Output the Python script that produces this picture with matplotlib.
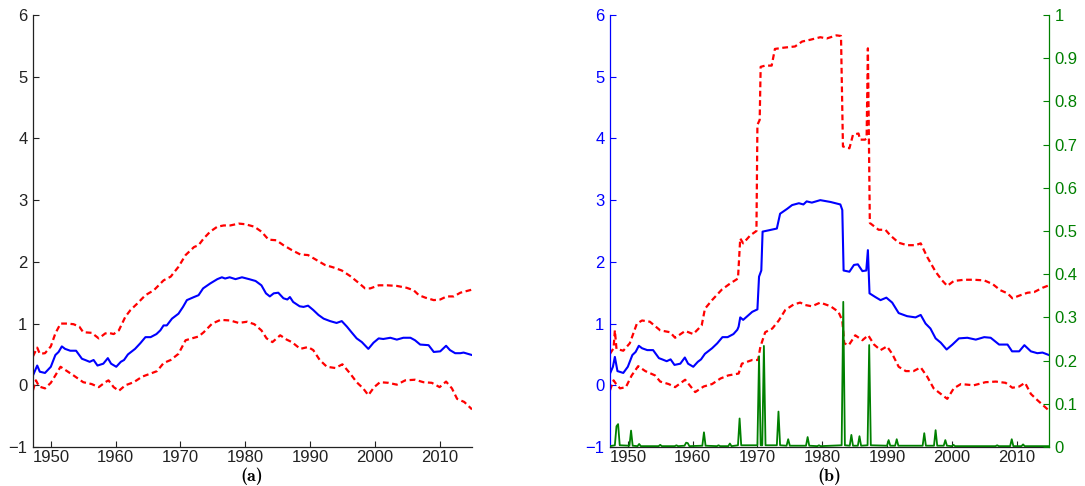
import matplotlib
matplotlib.use("Agg")
import matplotlib.pyplot as plt

plt.rcParams['font.family'] = ['Liberation Sans', 'DejaVu Sans']

# ---------------- panel (a): full-sample estimate ----------------
a_mid_x = [1947.25, 1947.9, 1948.3, 1949.1, 1950.0, 1950.7, 1951.2, 1951.7, 1952.2, 1953.0,
           1953.9, 1954.8, 1955.3, 1956.0, 1956.6, 1957.2, 1958.1, 1958.8, 1959.3, 1960.1,
           1960.8, 1961.3, 1961.9, 1963.0, 1963.8, 1964.6, 1965.4, 1966.3, 1966.9, 1967.4,
           1967.9, 1968.7, 1969.7, 1970.4, 1971.0, 1972.1, 1972.8, 1973.5, 1974.6, 1975.7,
           1976.4, 1976.9, 1977.6, 1978.5, 1979.5, 1980.6, 1981.6, 1982.5, 1983.2, 1983.8,
           1984.4, 1985.1, 1985.9, 1986.5, 1986.9, 1987.4, 1988.4, 1989.0, 1989.7, 1990.5,
           1991.3, 1992.1, 1993.1, 1994.1, 1994.9, 1995.7, 1996.4, 1997.2, 1998.0, 1999.0,
           1999.8, 2000.6, 2001.3, 2002.4, 2003.4, 2004.4, 2005.5, 2006.2, 2007.0, 2008.3,
           2009.1, 2010.1, 2011.0, 2011.6, 2012.4, 2013.2, 2013.7, 2015.0]
a_mid_y = [0.16, 0.32, 0.22, 0.20, 0.30, 0.49, 0.54, 0.63, 0.59, 0.56,
           0.56, 0.43, 0.41, 0.38, 0.41, 0.32, 0.35, 0.44, 0.35, 0.30,
           0.38, 0.41, 0.50, 0.59, 0.68, 0.78, 0.78, 0.83, 0.89, 0.97,
           0.97, 1.08, 1.16, 1.27, 1.38, 1.43, 1.46, 1.57, 1.65, 1.72,
           1.75, 1.73, 1.75, 1.72, 1.75, 1.72, 1.69, 1.62, 1.49, 1.44,
           1.49, 1.50, 1.41, 1.39, 1.43, 1.35, 1.28, 1.27, 1.29, 1.22,
           1.14, 1.08, 1.04, 1.01, 1.04, 0.95, 0.86, 0.76, 0.70, 0.59,
           0.69, 0.76, 0.75, 0.77, 0.74, 0.77, 0.77, 0.73, 0.66, 0.65,
           0.54, 0.55, 0.64, 0.57, 0.52, 0.52, 0.53, 0.49]

a_hi_x = [1947.25, 1947.9, 1948.3, 1949.1, 1950.0, 1950.7, 1951.5, 1952.5, 1953.5, 1954.4,
          1955.0, 1956.3, 1957.4, 1958.4, 1958.9, 1959.7, 1960.5, 1961.5, 1962.3, 1963.3,
          1964.6, 1965.9, 1967.4, 1968.5, 1969.7, 1970.8, 1972.1, 1972.8, 1973.6, 1974.6,
          1975.7, 1976.7, 1977.7, 1979.0, 1980.0, 1981.4, 1982.5, 1983.6, 1984.8, 1985.9,
          1987.2, 1988.5, 1989.7, 1991.0, 1992.3, 1993.6, 1994.9, 1996.2, 1997.5, 1998.5,
          1999.3, 2000.6, 2001.9, 2003.4, 2004.9, 2006.0, 2006.8, 2007.8, 2009.1, 2010.1,
          2011.1, 2012.2, 2013.2, 2015.0]
a_hi_y = [0.47, 0.61, 0.51, 0.52, 0.63, 0.84, 1.00, 1.00, 0.99, 0.95,
          0.86, 0.85, 0.76, 0.84, 0.85, 0.83, 0.89, 1.11, 1.22, 1.32,
          1.46, 1.54, 1.70, 1.76, 1.92, 2.11, 2.24, 2.27, 2.38, 2.49,
          2.57, 2.59, 2.59, 2.62, 2.61, 2.57, 2.49, 2.36, 2.35, 2.27,
          2.19, 2.12, 2.11, 2.03, 1.95, 1.91, 1.86, 1.77, 1.66, 1.57,
          1.57, 1.62, 1.62, 1.61, 1.58, 1.54, 1.46, 1.42, 1.38, 1.39,
          1.44, 1.44, 1.50, 1.55]

a_lo_x = [1947.25, 1947.7, 1948.2, 1949.1, 1950.0, 1950.7, 1951.5, 1952.5, 1953.5, 1955.0,
          1956.3, 1957.4, 1958.4, 1958.9, 1959.7, 1960.5, 1961.5, 1962.8, 1964.1, 1965.4,
          1966.4, 1967.4, 1968.5, 1969.7, 1970.8, 1972.1, 1972.8, 1973.6, 1974.9, 1976.2,
          1977.7, 1979.0, 1980.3, 1981.4, 1982.5, 1983.3, 1984.2, 1985.4, 1986.4, 1987.2,
          1988.5, 1989.7, 1990.5, 1991.5, 1992.6, 1993.9, 1995.0, 1996.2, 1997.2, 1998.2,
          1999.0, 1999.9, 2000.8, 2002.1, 2003.4, 2004.7, 2006.2, 2007.5, 2008.8, 2010.0,
          2011.0, 2011.9, 2012.7, 2013.8, 2015.0]
a_lo_y = [-0.08, 0.08, -0.02, -0.05, 0.04, 0.16, 0.30, 0.23, 0.16, 0.05,
          0.02, -0.03, 0.05, 0.08, -0.03, -0.09, 0.00, 0.05, 0.14, 0.19,
          0.23, 0.36, 0.41, 0.51, 0.73, 0.77, 0.79, 0.86, 1.00, 1.06,
          1.05, 1.01, 1.03, 0.99, 0.89, 0.76, 0.70, 0.81, 0.74, 0.70,
          0.59, 0.62, 0.57, 0.41, 0.30, 0.28, 0.34, 0.19, 0.05, -0.05,
          -0.16, -0.03, 0.05, 0.04, 0.01, 0.08, 0.09, 0.05, 0.04, -0.03,
          0.06, -0.05, -0.22, -0.27, -0.39]

# ---------------- panel (b): estimate with break probabilities ----------------
b_mid_x = [1947.25, 1947.7, 1948.0, 1948.4, 1949.3, 1950.0, 1950.7, 1951.2, 1951.7, 1952.2,
           1953.0, 1953.9, 1954.8, 1955.3, 1956.0, 1956.6, 1957.2, 1958.1, 1958.8, 1959.3,
           1960.1, 1960.8, 1961.3, 1961.9, 1963.0, 1963.8, 1964.6, 1965.4, 1966.3, 1966.9,
           1967.1, 1967.35, 1967.8, 1969.2, 1970.0, 1970.25, 1970.6, 1970.8, 1971.7, 1973.0,
           1973.5, 1974.6, 1975.35, 1976.4, 1977.1, 1977.6, 1978.4, 1979.7, 1981.3, 1982.8,
           1983.1, 1983.3, 1984.2, 1984.9, 1985.5, 1986.2, 1986.8, 1987.05, 1987.3, 1988.2,
           1989.0, 1989.9, 1990.8, 1991.8, 1993.1, 1994.4, 1995.2, 1995.95, 1996.7, 1997.5,
           1998.3, 1999.2, 2000.1, 2001.1, 2002.4, 2003.7, 2005.0, 2006.0, 2007.3, 2008.6,
           2009.3, 2010.4, 2011.2, 2012.2, 2013.2, 2014.0, 2015.0]
b_mid_y = [0.19, 0.30, 0.46, 0.23, 0.20, 0.30, 0.49, 0.54, 0.64, 0.60,
           0.57, 0.57, 0.44, 0.42, 0.39, 0.42, 0.33, 0.35, 0.45, 0.35,
           0.30, 0.38, 0.42, 0.51, 0.60, 0.68, 0.78, 0.78, 0.83, 0.90,
           0.95, 1.10, 1.06, 1.19, 1.23, 1.76, 1.86, 2.49, 2.51, 2.54,
           2.78, 2.86, 2.92, 2.95, 2.93, 2.98, 2.96, 3.00, 2.97, 2.93,
           2.84, 1.86, 1.84, 1.95, 1.96, 1.85, 1.86, 2.19, 1.49, 1.43,
           1.38, 1.42, 1.34, 1.17, 1.12, 1.10, 1.14, 1.00, 0.92, 0.76,
           0.69, 0.58, 0.66, 0.76, 0.77, 0.74, 0.78, 0.77, 0.66, 0.66,
           0.55, 0.55, 0.65, 0.55, 0.52, 0.53, 0.49]

b_hi_x = [1947.25, 1947.8, 1948.0, 1948.25, 1949.3, 1950.3, 1951.4, 1952.2, 1953.4, 1955.0,
          1956.5, 1957.3, 1958.85, 1960.1, 1961.4, 1961.9, 1963.0, 1964.5, 1965.8, 1967.0,
          1967.35, 1967.8, 1968.9, 1969.85, 1970.0, 1970.35, 1970.5, 1971.2, 1972.2, 1972.7,
          1974.0, 1975.8, 1976.9, 1978.2, 1979.7, 1980.7, 1982.2, 1982.9, 1983.2, 1984.2,
          1984.75, 1985.6, 1985.85, 1986.6, 1986.85, 1987.05, 1987.35, 1988.7, 1989.75, 1990.5,
          1991.8, 1993.1, 1994.4, 1995.2, 1996.2, 1997.5, 1998.5, 1999.3, 2000.3, 2001.9,
          2003.4, 2005.0, 2006.3, 2007.5, 2008.6, 2009.35, 2010.6, 2011.7, 2012.7, 2014.0,
          2015.0]
b_hi_y = [0.51, 0.60, 0.89, 0.59, 0.56, 0.68, 1.00, 1.05, 1.03, 0.89,
          0.86, 0.77, 0.88, 0.83, 0.97, 1.24, 1.38, 1.55, 1.65, 1.73,
          2.38, 2.30, 2.43, 2.50, 4.22, 4.30, 5.16, 5.18, 5.18, 5.45,
          5.47, 5.49, 5.57, 5.60, 5.64, 5.62, 5.67, 5.66, 3.87, 3.84,
          4.06, 4.08, 3.98, 3.98, 4.00, 5.46, 2.63, 2.52, 2.52, 2.43,
          2.31, 2.27, 2.27, 2.30, 2.08, 1.84, 1.70, 1.61, 1.69, 1.71,
          1.71, 1.70, 1.64, 1.54, 1.49, 1.41, 1.46, 1.50, 1.51, 1.58,
          1.62]

b_lo_x = [1947.25, 1947.8, 1948.2, 1948.8, 1949.7, 1950.6, 1951.6, 1952.7, 1954.2, 1955.0,
          1956.3, 1957.3, 1958.85, 1960.4, 1961.7, 1963.0, 1964.3, 1965.5, 1967.1, 1967.6,
          1969.2, 1970.1, 1970.45, 1971.2, 1972.3, 1973.3, 1974.3, 1975.6, 1976.6, 1977.4,
          1978.4, 1979.7, 1981.3, 1982.5, 1983.1, 1983.4, 1984.1, 1985.1, 1986.2, 1987.1,
          1988.0, 1989.0, 1990.0, 1990.8, 1991.8, 1992.9, 1994.1, 1995.2, 1996.2, 1997.2,
          1998.3, 1999.3, 2000.3, 2001.4, 2003.4, 2005.2, 2006.8, 2008.3, 2009.35, 2010.4,
          2011.3, 2012.2, 2013.2, 2015.0]
b_lo_y = [-0.08, 0.08, 0.02, -0.05, -0.03, 0.16, 0.31, 0.23, 0.16, 0.06,
          0.02, -0.03, 0.09, -0.11, -0.02, 0.02, 0.11, 0.16, 0.19, 0.35,
          0.41, 0.41, 0.62, 0.86, 0.92, 1.05, 1.22, 1.31, 1.34, 1.30,
          1.28, 1.34, 1.28, 1.19, 1.05, 0.68, 0.65, 0.81, 0.73, 0.81,
          0.66, 0.57, 0.63, 0.51, 0.30, 0.23, 0.23, 0.29, 0.14, -0.05,
          -0.14, -0.22, -0.05, 0.02, 0.00, 0.05, 0.06, 0.04, -0.04, -0.02,
          0.04, -0.14, -0.24, -0.41]

# break probability (right-hand axis)
prob_x = [1947.25, 1948.0, 1948.25, 1948.5, 1948.75, 1950.25, 1950.5, 1950.75, 1951.5, 1951.75,
          1952.0, 1954.75, 1955.0, 1955.25, 1957.25, 1957.5, 1957.75, 1958.75, 1959.0, 1959.25,
          1959.5, 1961.5, 1961.75, 1962.0, 1963.75, 1964.0, 1964.25, 1965.5, 1965.75, 1966.0,
          1967.0, 1967.25, 1967.5, 1970.0, 1970.25, 1970.5, 1970.75, 1971.0, 1971.25, 1973.0,
          1973.25, 1973.5, 1974.5, 1974.75, 1975.0, 1977.5, 1977.75, 1978.0, 1979.25, 1979.5,
          1979.75, 1983.0, 1983.25, 1983.5, 1984.25, 1984.5, 1984.75, 1985.5, 1985.75, 1986.0,
          1987.0, 1987.25, 1987.5, 1990.0, 1990.25, 1990.5, 1991.25, 1991.5, 1991.75, 1995.5,
          1995.75, 1996.0, 1997.25, 1997.5, 1997.75, 1998.75, 1999.0, 1999.25, 2000.0, 2000.25,
          2000.5, 2006.75, 2007.0, 2007.25, 2009.0, 2009.25, 2009.5, 2010.75, 2011.0, 2011.25,
          2015.0]
prob_y = [0.002, 0.004, 0.048, 0.053, 0.004, 0.003, 0.038, 0.003, 0.002, 0.007,
          0.002, 0.002, 0.005, 0.002, 0.002, 0.004, 0.002, 0.003, 0.010, 0.009,
          0.002, 0.003, 0.034, 0.003, 0.002, 0.004, 0.002, 0.002, 0.008, 0.002,
          0.004, 0.066, 0.004, 0.004, 0.210, 0.004, 0.004, 0.234, 0.004, 0.004,
          0.082, 0.004, 0.003, 0.018, 0.003, 0.003, 0.023, 0.003, 0.002, 0.004,
          0.002, 0.004, 0.336, 0.004, 0.003, 0.028, 0.003, 0.003, 0.025, 0.003,
          0.004, 0.236, 0.004, 0.003, 0.016, 0.003, 0.003, 0.018, 0.003, 0.003,
          0.032, 0.003, 0.003, 0.039, 0.003, 0.003, 0.016, 0.003, 0.002, 0.005,
          0.002, 0.002, 0.004, 0.002, 0.002, 0.018, 0.002, 0.002, 0.006, 0.002,
          0.002]

year_ticks = [1950, 1960, 1970, 1980, 1990, 2000, 2010]
left_ticks = [-1, 0, 1, 2, 3, 4, 5, 6]
prob_ticks = [0, 0.1, 0.2, 0.3, 0.4, 0.5, 0.6, 0.7, 0.8, 0.9, 1]
prob_labels = ['0', '0.1', '0.2', '0.3', '0.4', '0.5', '0.6', '0.7', '0.8', '0.9', '1']
panel_labels = ['(a)', '(b)']

BLUE = '#0000ff'
RED = '#ff0000'
GREEN = '#008000'
FS = 12

W, H = 1085, 486
fig = plt.figure(figsize=(W / 100, H / 100), dpi=100)
ax_a = fig.add_axes([33 / W, 39 / H, 439 / W, 432 / H])
ax_b = fig.add_axes([610 / W, 39 / H, 439 / W, 432 / H])

dash = dict(color=RED, lw=1.6, ls=(0, (2.6, 1.6)))
solid = dict(color=BLUE, lw=1.5)

def style_axes(ax, ycolor):
    ax.set_xlim(1947.25, 2015.0)
    ax.set_ylim(-1, 6)
    ax.set_xticks(year_ticks)
    ax.set_yticks(left_ticks)
    for side in ('top', 'right'):
        ax.spines[side].set_visible(False)
    ax.spines['bottom'].set_color('#222222')
    ax.spines['left'].set_color(ycolor)
    for sp in ax.spines.values():
        sp.set_linewidth(0.9)
    ax.tick_params(axis='x', direction='in', length=4, width=0.8,
                   colors='#222222', labelsize=FS, pad=2.5)
    ax.tick_params(axis='y', direction='in', length=4, width=0.8,
                   colors=ycolor, labelsize=FS, pad=4)

# panel (a)
ax_a.plot(a_hi_x, a_hi_y, **dash)
ax_a.plot(a_lo_x, a_lo_y, **dash)
ax_a.plot(a_mid_x, a_mid_y, **solid)
style_axes(ax_a, '#222222')

# panel (b)
ax_b.plot(b_hi_x, b_hi_y, **dash)
ax_b.plot(b_lo_x, b_lo_y, **dash)
ax_b.plot(b_mid_x, b_mid_y, **solid)
style_axes(ax_b, BLUE)

ax_p = ax_b.twinx()
ax_p.plot(prob_x, prob_y, color=GREEN, lw=1.3)
ax_p.set_xlim(1947.25, 2015.0)
ax_p.set_ylim(0, 1)
ax_p.set_yticks(prob_ticks)
ax_p.set_yticklabels(prob_labels)
for side in ('top', 'left', 'bottom'):
    ax_p.spines[side].set_visible(False)
ax_p.spines['right'].set_color(GREEN)
ax_p.spines['right'].set_linewidth(0.9)
ax_p.tick_params(axis='y', direction='in', length=4, width=0.8,
                 colors=GREEN, labelsize=FS, pad=4)

# panel captions in Computer Modern bold
for cx, lab in zip([251.5, 829.5], panel_labels):
    fig.text(cx / W, 1 - 476 / H, lab, ha='center', va='center',
             fontsize=13, family=['cmb10', 'DejaVu Serif'])

fig.savefig('out.png', dpi=100)
